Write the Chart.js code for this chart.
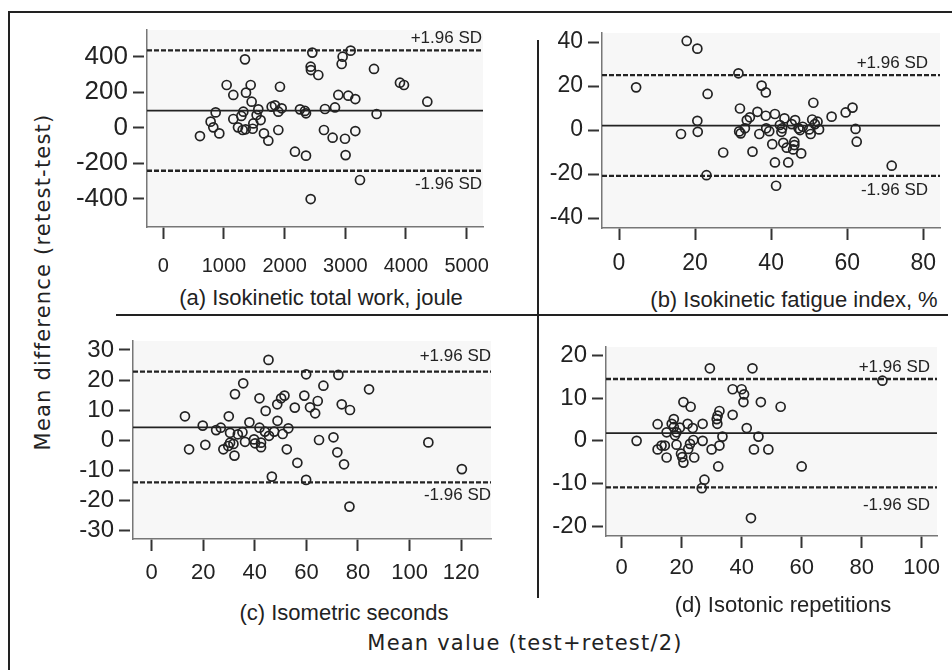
<!DOCTYPE html>
<html>
<head>
<meta charset="utf-8">
<script src="https://cdn.jsdelivr.net/npm/chart.js@4.4.0/dist/chart.umd.min.js"></script>
<style>
body { margin:0; background:#fff; width:952px; height:670px; position:relative; overflow:hidden;
       font-family:"Liberation Sans", Arial, sans-serif; color:#222; }
.panel { position:absolute; }
.rule { position:absolute; background:#222; }
.cap { position:absolute; font-size:22px; white-space:nowrap; transform:translate(-50%,-50%); }
.title { position:absolute; font-family:"DejaVu Sans", sans-serif; font-size:21px; letter-spacing:1.2px;
         white-space:nowrap; transform:translate(-50%,-50%); }
</style>
</head>
<body>

<div class="rule" style="left:8px;top:11px;width:944px;height:2px"></div>
<div class="rule" style="left:8px;top:11px;width:2px;height:659px"></div>
<div class="rule" style="left:116px;top:314px;width:832px;height:2px"></div>
<div class="rule" style="left:537px;top:40px;width:2px;height:558px"></div>

<div class="panel" id="pa"><canvas id="ca"></canvas></div>
<div class="panel" id="pb"><canvas id="cb"></canvas></div>
<div class="panel" id="pc"><canvas id="cc"></canvas></div>
<div class="panel" id="pd"><canvas id="cd"></canvas></div>

<div class="cap" style="left:321px;top:298px">(a) Isokinetic total work, joule</div>
<div class="cap" style="left:794px;top:300px">(b) Isokinetic fatigue index, %</div>
<div class="cap" style="left:344px;top:613px">(c) Isometric seconds</div>
<div class="cap" style="left:783px;top:605px">(d) Isotonic repetitions</div>
<div class="title" style="left:525px;top:643px">Mean value (test+retest/2)</div>
<div class="title" style="left:43px;top:282px;transform:translate(-50%,-50%) rotate(-90deg)">Mean difference (retest-test)</div>

<script>
// (a) isokinetic total work, joule
var workX = [604, 780, 824, 863, 923, 1044, 1154, 1154, 1231, 1286, 1319, 1308, 1346, 1363, 1357,
	1440, 1456, 1473, 1484, 1538, 1566, 1604, 1659, 1731, 1786, 1841, 1896, 1896, 1923, 1951,
	2170, 2253, 2335, 2352, 2352, 2429, 2434, 2456, 2429, 2555, 2665, 2648, 2791, 2830, 2885,
	2940, 2956, 2995, 3005, 3049, 3088, 3165, 3165, 3242, 3473, 3516, 3901, 3967, 4352];
var workDiff = [-47, 34, 2, 86, -32, 240, 184, 49, 2, 66, 90, -13, 384, 197, -9,
	240, 146, -6, 24, 71, 103, 43, -32, -73, 118, 126, -13, 90, 230, 109,
	-135, 103, 94, 81, -157, 343, 324, 422, -401, 296, 105, -13, -56, 114, 184,
	358, 399, -62, -154, 180, 433, 161, -19, -294, 330, 77, 253, 240, 146];
var workLimits = [96, 434, -242];   // mean, +1.96 SD, -1.96 SD
var workXTicks = [0, 1000, 2000, 3000, 4000, 5000];
var workYTicks = [400, 200, 0, -200, -400];

// (b) isokinetic fatigue index, %
var fatigueX = [4.5, 16.3, 17.8, 20.6, 20.6, 20.7, 23.3, 23.0, 27.4, 31.4, 31.8, 31.6, 32.0, 33.1, 33.6,
	34.4, 35.1, 36.4, 36.9, 37.5, 38.6, 38.6, 38.7, 39.5, 40.3, 41.0, 41.0, 41.3, 42.3, 42.7,
	42.9, 43.2, 43.5, 44.1, 44.5, 45.4, 45.8, 46.1, 46.3, 46.1, 47.6, 47.9, 48.3, 50.0, 50.4,
	50.8, 51.1, 51.5, 52.2, 52.6, 55.9, 59.6, 61.4, 62.2, 62.5, 71.7, 47.2];
var fatigueDiff = [19.4, -1.8, 40.5, 37, 4.2, -0.8, 16.4, -20.5, -10.2, 25.8, 9.8, -0.6, -1.5, 0.8, 4.5,
	5.8, -9.8, 8.3, -1.8, 20.2, 17.1, 6.5, 0.8, -0.5, -6.4, 7.3, -14.7, -25.3, 2.3, -0.8,
	0.8, -5.8, 5.3, -8.0, -14.7, 2.7, -8.8, -5.3, 4.5, -6.8, 0, -10.6, 1.5, 0.3, -1.8,
	4.8, 12.4, 2.7, 3.8, 0.3, 6.1, 8.0, 10.2, 0.5, -5.3, -16.2, 0.8];
var fatigueLimits = [2.0, 25.0, -20.8];
var fatigueXTicks = [0, 20, 40, 60, 80];
var fatigueYTicks = [40, 20, 0, -20, -40];

// (c) isometric seconds
var isometricX = [12.9, 14.5, 19.8, 20.8, 25.0, 26.8, 27.8, 29.9, 30.4, 29.7, 30.4, 32.1, 32.3, 31.7, 33.4,
	35.2, 35.5, 36.2, 37.9, 39.7, 40.1, 41.8, 41.8, 42.4, 42.4, 43.9, 44.2, 45.3, 45.5, 46.6,
	47.5, 48.7, 48.8, 50.2, 50.8, 51.5, 52.4, 53.0, 55.5, 56.5, 59.2, 59.9, 59.9, 61.4, 63.4,
	64.4, 64.9, 66.6, 70.5, 72.0, 72.4, 73.7, 74.6, 76.9, 76.7, 84.3, 107.3, 120.3];
var isometricDiff = [7.9, -3.1, 4.8, -1.6, 3.3, 4.1, -3.1, 7.9, 2.4, -2.0, -0.9, -5.2, 15.3, -1.3, 1.9,
	2.6, 18.9, -0.6, 5.9, 0.2, -1.1, 13.9, 4.1, -0.9, -2.4, 2.8, 9.7, 26.7, 1.4, -12.2,
	2.8, 11.9, 6.4, 13.9, 2.0, 14.8, -3.1, 3.9, 10.8, -7.6, 14.8, 21.9, -13.3, 10.9, 8.9,
	13.0, 0, 18.1, 0.9, -4.1, 21.7, 11.9, -8.1, 10.0, -22.2, 16.9, -0.8, -9.7];
var isometricLimits = [4.2, 22.8, -14.1];
var isometricXTicks = [0, 20, 40, 60, 80, 100, 120];
var isometricYTicks = [30, 20, 10, 0, -10, -20, -30];

// (d) isotonic repetitions
var isotonicX = [5.0, 12.0, 12.0, 13.3, 14.4, 15.0, 15.0, 16.7, 17.4, 17.4, 17.8, 18.3, 18.3, 19.4, 19.8,
	20.2, 20.6, 20.6, 22.0, 22.2, 22.8, 23.0, 23.7, 23.9, 24.2, 27.0, 27.0, 26.7, 27.6, 29.4,
	30.0, 31.9, 31.7, 32.0, 32.6, 32.6, 32.2, 33.6, 37.0, 37.0, 40.0, 40.8, 40.6, 41.7, 43.1,
	43.6, 44.1, 45.6, 46.4, 48.9, 53.0, 60.0, 86.9];
var isotonicDiff = [0, 3.9, -2.0, -1.1, -1.1, 2.0, -3.9, 4.0, 5.1, 3.2, 1.3, -0.9, 2.0, 3.1, -3.0,
	-3.8, -5.1, 9.1, 4.0, -1.9, -0.7, 8.0, 3.0, 0.2, -3.9, 4.0, 0, -11.1, -9.1, 17.0,
	-2.0, 4.0, 5.1, 5.9, 7.0, -1.1, -6.0, 1.0, 6.1, 12.1, 12.1, 10.9, 9.1, 3.0, -18.1,
	17.0, -2.0, 1.0, 9.1, -2.0, 8.0, -6.0, 14.1];
var isotonicLimits = [1.8, 14.5, -10.9];
var isotonicXTicks = [0, 20, 40, 60, 80, 100];
var isotonicYTicks = [20, 10, 0, -10, -20];

var FONT = '"Liberation Sans", Arial, sans-serif';
var INK = '#222';

// light plot background
var plotBg = {
	id: 'plotBg',
	beforeDraw: function(chart) {
		var a = chart.chartArea, ctx = chart.ctx;
		ctx.save();
		ctx.fillStyle = '#f7f7f7';
		ctx.fillRect(a.left, a.top, a.right - a.left, a.bottom - a.top);
		ctx.restore();
	}
};

// "+1.96 SD" / "-1.96 SD" captions next to the limit lines
var sdLabels = {
	id: 'sdLabels',
	afterDatasetsDraw: function(chart, args, o) {
		var ctx = chart.ctx, a = chart.chartArea, ys = chart.scales.y;
		ctx.save();
		ctx.font = '17px ' + FONT;
		ctx.fillStyle = INK;
		ctx.textAlign = 'right';
		ctx.textBaseline = 'middle';
		ctx.fillText('+1.96 SD', a.right - o.inset, ys.getPixelForValue(o.limits[1]) + o.up);
		ctx.fillText('-1.96 SD', a.right - o.inset, ys.getPixelForValue(o.limits[2]) + o.down);
		ctx.restore();
	}
};

function limitLine(value, xMin, xMax, dash, width) {
	return {
		type: 'line',
		data: [{x: xMin, y: value}, {x: xMax, y: value}],
		borderColor: INK,
		borderWidth: width,
		borderDash: dash,
		pointRadius: 0,
		fill: false,
		order: 2
	};
}

function makePanel(p) {
	// room around the plot area: y axis, top margin (must exceed half a tick label), right, x axis
	var L = 70, T = 30, R = 25, B = 58;
	var w = p.area[2] - p.area[0] + L + R;
	var h = p.area[3] - p.area[1] + T + B;
	var box = document.getElementById(p.box);
	box.style.left = (p.area[0] - L) + 'px';
	box.style.top = (p.area[1] - T) + 'px';
	var cv = document.getElementById(p.canvas);
	cv.width = w; cv.height = h;
	cv.style.width = w + 'px'; cv.style.height = h + 'px';

	var pts = p.xs.map(function(x, i) { return {x: x, y: p.ys[i]}; });

	return new Chart(cv, {
		type: 'scatter',
		data: {
			datasets: [
				{
					data: pts,
					pointRadius: 4.5,
					pointBorderWidth: 1.7,
					pointBorderColor: INK,
					pointBackgroundColor: 'rgba(0,0,0,0)',
					order: 1
				},
				limitLine(p.limits[0], p.xRange[0], p.xRange[1], [], 1.8),
				limitLine(p.limits[1], p.xRange[0], p.xRange[1], [5, 2], 2.3),
				limitLine(p.limits[2], p.xRange[0], p.xRange[1], [5, 2], 2.3)
			]
		},
		options: {
			responsive: false,
			animation: false,
			layout: { padding: { top: T, right: R, left: 0, bottom: 0 } },
			plugins: {
				legend: { display: false },
				tooltip: { enabled: false },
				sdLabels: { limits: p.limits, inset: p.sd[0], up: p.sd[1], down: p.sd[2] }
			},
			scales: {
				x: {
					type: 'linear',
					position: 'bottom',
					min: p.xRange[0], max: p.xRange[1],
					afterFit: function(s) { s.height = B; },
					afterBuildTicks: function(s) { s.ticks = p.xTicks.map(function(v) { return {value: v}; }); },
					ticks: {
						font: { family: FONT, size: p.xFont },
						color: INK,
						padding: p.xPad,
						maxRotation: 0,
						autoSkip: false,
						callback: function(v) { return String(v); }
					},
					grid: { drawOnChartArea: false, drawTicks: true, tickLength: 12, tickColor: '#333', tickWidth: 2 },
					border: { display: true, color: '#777', width: 1.5 }
				},
				y: {
					min: p.yRange[0], max: p.yRange[1],
					afterFit: function(s) { s.width = L; },
					afterBuildTicks: function(s) { s.ticks = p.yTicks.map(function(v) { return {value: v}; }); },
					ticks: {
						font: { family: FONT, size: p.yFont },
						color: INK,
						padding: 5,
						autoSkip: false,
						callback: function(v) { return String(v); }
					},
					grid: { drawOnChartArea: false, drawTicks: true, tickLength: 14, tickBorderDash: [11, 3],
						tickColor: '#333', tickWidth: 2 },
					border: { display: true, color: '#777', width: 1.5 }
				}
			}
		},
		plugins: [plotBg, sdLabels]
	});
}

makePanel({ box: 'pa', canvas: 'ca', area: [147, 30, 483, 227],
	xs: workX, ys: workDiff, limits: workLimits, xTicks: workXTicks, yTicks: workYTicks,
	xRange: [-269, 5270], yRange: [-558, 549], xFont: 20, yFont: 26, xPad: 15, sd: [1, -12, 14] });

makePanel({ box: 'pb', canvas: 'cb', area: [602, 33, 940, 228],
	xs: fatigueX, ys: fatigueDiff, limits: fatigueLimits, xTicks: fatigueXTicks, yTicks: fatigueYTicks,
	xRange: [-4.47, 84.4], yRange: [-44.5, 44.1], xFont: 23, yFont: 23, xPad: 10, sd: [12, -12, 14] });

makePanel({ box: 'pc', canvas: 'cc', area: [133, 341, 491, 539],
	xs: isometricX, ys: isometricDiff, limits: isometricLimits, xTicks: isometricXTicks, yTicks: isometricYTicks,
	xRange: [-7.25, 131.6], yRange: [-33, 33], xFont: 22, yFont: 24, xPad: 9, sd: [0, -15, 13] });

makePanel({ box: 'pd', canvas: 'cd', area: [606, 347, 937, 536],
	xs: isotonicX, ys: isotonicDiff, limits: isotonicLimits, xTicks: isotonicXTicks, yTicks: isotonicYTicks,
	xRange: [-5.2, 105.1], yRange: [-22.3, 22.0], xFont: 22, yFont: 24, xPad: 7, sd: [7, -12, 18] });
</script>
</body>
</html>
